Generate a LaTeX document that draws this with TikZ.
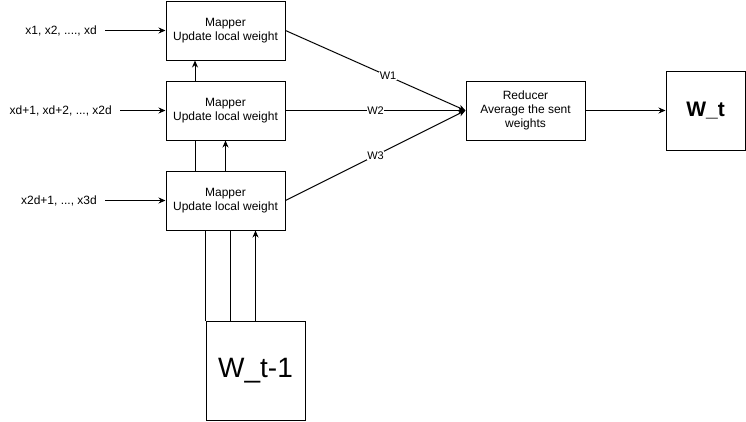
\documentclass[tikz,border=0pt]{standalone}
\usepackage{fontspec}
\setmainfont{Liberation Sans}
\usetikzlibrary{positioning,arrows.meta}
\begin{document}
\begin{tikzpicture}[x=1pt,y=-1pt,
  box/.style={draw,line width=1pt,minimum width=119pt,minimum height=59pt,inner sep=0pt,align=center,font=\fontsize{12}{14}\selectfont},
  wire/.style={line width=1pt},
  feed/.style={wire,-{Stealth[length=7pt,width=6pt]}},
  tag/.style={fill=white,inner sep=0.5pt,font=\fontsize{11}{13}\selectfont},
  input/.style={anchor=east,inner xsep=8pt,inner ysep=0pt,font=\fontsize{12}{14}\selectfont}]
  \useasboundingbox (0,0) rectangle (746,421);
  % mappers
  \node [box] (M1) at (225.5,30.5) {Mapper\\Update local weight};
  \node [box] (M2) at (225.5,110.5) {Mapper\\Update local weight};
  \node [box] (M3) at (225.5,200.5) {Mapper\\Update local weight};
  \node [box] (R) at (525.5,110.5) {Reducer\\Average the sent\\weights};
  \node [box,minimum width=79pt,minimum height=79pt,font=\bfseries\fontsize{21}{25}\selectfont] (Wt) at (705.5,110.5) {W\_t};
  \node [box,minimum width=99pt,minimum height=99pt,font=\fontsize{28}{32}\selectfont] (Wold) at (255.5,370.5) {W\_t-1};
  % inputs
  \node [input] (X1) at (105,30.5) {x1, x2, ...., xd};
  \node [input] (X2) at (120,110.5) {xd+1, xd+2, ..., x2d};
  \node [input] (X3) at (105,200.5) {x2d+1, ..., x3d};
  \draw [feed] (X1.east) -- (M1.west);
  \draw [feed] (X2.east) -- (M2.west);
  \draw [feed] (X3.east) -- (M3.west);
  % old weights up
  \draw [wire] (Wold.north west) -- (Wold.north west |- M3.south);
  \draw [wire] ([xshift=-25pt]Wold.north) -- ([xshift=-25pt]Wold.north |- M3.south);
  \draw [feed] (Wold.north) -- (Wold.north |- M3.south);
  \draw [wire] ([xshift=-30.5pt]M3.north) -- ([xshift=-30.5pt]M2.south);
  \draw [feed] (M3.north) -- (M2.south);
  \draw [feed] ([xshift=-30.5pt]M2.north) -- ([xshift=-30.5pt]M1.south);
  % to reducer
  \draw [feed] (M1.east) -- node [tag,pos=0.57] {W1} (R.west);
  \draw [feed] (M2.east) -- node [tag] {W2} (R.west);
  \draw [feed] (M3.east) -- node [tag] {W3} (R.west);
  \draw [feed] (R.east) -- (Wt.west);
\end{tikzpicture}
\end{document}
